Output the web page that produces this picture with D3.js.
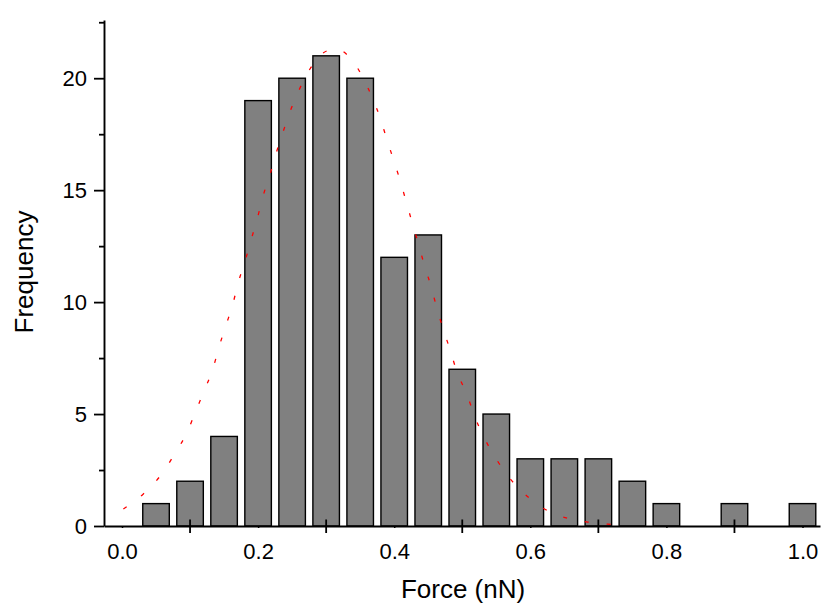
<!DOCTYPE html>
<html>
<head>
<meta charset="utf-8">
<script src="https://cdn.jsdelivr.net/npm/d3@7"></script>
<style>
  body { margin: 0; background: #fff; }
  svg { font-family: "Liberation Sans", Arial, sans-serif; }
</style>
</head>
<body>
<div id="chart"></div>
<script>
// histogram bins (centres, nN) and counts
const binCenters = [0.05, 0.10, 0.15, 0.20, 0.25, 0.30, 0.35, 0.40, 0.45, 0.50,
                    0.55, 0.60, 0.65, 0.70, 0.75, 0.80, 0.85, 0.90, 0.95, 1.00];
const counts = [1, 2, 4, 19, 20, 21, 20, 12, 13, 7, 5, 3, 3, 3, 2, 1, 0, 1, 0, 1];

// fitted curve
const fitForce = [0.002, 0.031, 0.058, 0.078, 0.096, 0.109, 0.122, 0.134, 0.143, 0.153,
                  0.163, 0.171, 0.181, 0.190, 0.199, 0.207, 0.217, 0.226, 0.236, 0.247,
                  0.260, 0.276, 0.302, 0.316, 0.330, 0.352, 0.367, 0.379, 0.389, 0.399,
                  0.409, 0.418, 0.427, 0.436, 0.445, 0.455, 0.463, 0.473, 0.483, 0.493,
                  0.507, 0.518, 0.532, 0.550, 0.572, 0.600, 0.628, 0.657, 0.686, 0.714, 0.742];
const fitFreq = [0.76, 1.42, 2.31, 3.25, 4.21, 5.18, 6.12, 7.07, 8.04, 8.98,
                 9.93, 10.89, 11.84, 12.81, 13.75, 14.71, 15.65, 16.60, 17.54, 18.51,
                 19.46, 20.40, 21.23, 21.30, 21.07, 20.15, 19.18, 18.26, 17.29, 16.35,
                 15.40, 14.44, 13.49, 12.55, 11.58, 10.62, 9.68, 8.72, 7.77, 6.82,
                 5.87, 4.91, 3.96, 2.99, 2.05, 1.21, 0.64, 0.33, 0.17, 0.08, 0.01];

const xLabels = [0, 0.2, 0.4, 0.6, 0.8, 1.0];
const xMinor = [0.1, 0.3, 0.5, 0.7, 0.9];
const yMajor = [0, 5, 10, 15, 20];
const yMinor = [2.5, 7.5, 12.5, 17.5, 22.5];

const W = 824, H = 610;

var svg = d3.select("#chart")
    .append("svg")
    .attr("width", W)
    .attr("height", H);

var x = d3.scaleLinear()
    .domain([-0.02645, 1.0257])
    .range([104, 820]);

var y = d3.scaleLinear()
    .domain([0, 22.6])
    .range([526, 20]);

var barW = x(0.039) - x(0);

// bars
svg.append("g")
    .selectAll("rect")
    .data(binCenters.map((c, i) => ({ c: c, n: counts[i] })).filter(d => d.n > 0))
    .join("rect")
    .attr("x", d => x(d.c) - barW / 2)
    .attr("y", d => y(d.n))
    .attr("width", barW)
    .attr("height", d => y(0) - y(d.n))
    .attr("fill", "#808080")
    .attr("stroke", "#000")
    .attr("stroke-width", 1.4);

// fit curve
svg.append("path")
    .datum(fitForce.map((f, i) => [f, fitFreq[i]]))
    .attr("fill", "none")
    .attr("stroke", "#ff0000")
    .attr("stroke-width", 1.3)
    .attr("stroke-dasharray", "4,18")
    .attr("d", d3.line()
        .x(d => x(d[0]))
        .y(d => y(d[1]))
        .curve(d3.curveMonotoneX));

//Y axis
var yAxis = svg.append("g")
    .attr("transform", "translate(104,0)")
    .call(d3.axisLeft(y).tickValues(yMajor).tickSize(10).tickSizeOuter(0).tickPadding(7));
yAxis.selectAll("text")
    .style("font-size", "22px")
    .style("font-family", "Liberation Sans, Arial, sans-serif")
    .attr("fill", "#000");
yAxis.selectAll("line").attr("stroke-width", 1.8);
yAxis.select(".domain").attr("stroke-width", 1.9);

svg.append("g")
    .attr("transform", "translate(104,0)")
    .call(d3.axisLeft(y).tickValues(yMinor).tickSize(5).tickFormat(""))
    .call(g => g.select(".domain").remove())
    .selectAll("line").attr("stroke-width", 1.8);

//X axis
var xAxis = svg.append("g")
    .attr("transform", "translate(0,526)")
    .call(d3.axisBottom(x).tickValues(xLabels).tickSize(2).tickSizeOuter(0).tickPadding(15)
        .tickFormat(d3.format(".1f")));
xAxis.selectAll("text")
    .style("font-size", "22px")
    .style("font-family", "Liberation Sans, Arial, sans-serif")
    .attr("fill", "#000");
xAxis.selectAll("line").attr("stroke-width", 1.5);
xAxis.select(".domain").attr("stroke-width", 1.9);

svg.append("g")
    .selectAll("line")
    .data(xMinor)
    .join("line")
    .attr("x1", d => x(d))
    .attr("x2", d => x(d))
    .attr("y1", 519.5)
    .attr("y2", 533)
    .attr("stroke", "#000")
    .attr("stroke-width", 1.8);

// axis titles
svg.append("text")
    .attr("x", 463)
    .attr("y", 598)
    .attr("text-anchor", "middle")
    .style("font-size", "26px")
    .text("Force (nN)");

svg.append("text")
    .attr("transform", "rotate(-90)")
    .attr("x", -272)
    .attr("y", 33)
    .attr("text-anchor", "middle")
    .style("font-size", "26px")
    .text("Frequency");
</script>
</body>
</html>
